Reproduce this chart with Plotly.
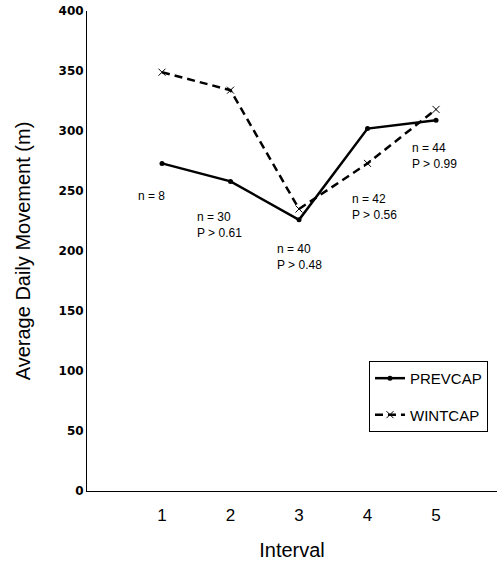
import plotly.graph_objects as go

intervals = [1, 2, 3, 4, 5]
prevcap = [273, 258, 226, 302, 309]
wintcap = [349, 334, 235, 273, 318]
tick_labels = ["1", "2", "3", "4", "5"]
y_ticks = [0, 50, 100, 150, 200, 250, 300, 350, 400]

ann_texts = ["n = 8", "n = 30<br>P > 0.61", "n = 40<br>P > 0.48", "n = 42<br>P > 0.56", "n = 44<br>P > 0.99"]
ann_x = [0.62, 1.48, 2.65, 3.74, 4.62]
ann_y = [246, 222, 195, 237, 279]

FONT = "Liberation Sans, Arial, sans-serif"

fig = go.Figure()
fig.add_trace(go.Scatter(
    x=intervals, y=prevcap, name="PREVCAP", mode="lines+markers",
    legendgroup="a",
    line=dict(color="black", width=2.5),
    marker=dict(symbol="circle", size=5, color="black"),
))
fig.add_trace(go.Scatter(
    x=intervals, y=wintcap, name="WINTCAP", mode="lines+markers",
    legendgroup="b",
    line=dict(color="black", width=2.5, dash="8px,5px"),
    marker=dict(symbol="x-thin", size=7, line=dict(color="black", width=1)),
))

for t, ax, ay in zip(ann_texts, ann_x, ann_y):
    fig.add_annotation(x=ax, y=ay, xref="x", yref="y", text=t, showarrow=False,
                       xanchor="left", yanchor="middle", align="left",
                       font=dict(family=FONT, size=12, color="black"))

fig.update_layout(
    width=497, height=574,
    margin=dict(l=87, r=0, t=11, b=83),
    paper_bgcolor="white", plot_bgcolor="white",
    font=dict(family=FONT, color="black"),
    showlegend=True,
    legend=dict(x=0.978, y=0.271, xanchor="right", yanchor="top",
                bordercolor="black", borderwidth=1, bgcolor="white",
                font=dict(family=FONT, size=15, color="black"),
                itemwidth=30, tracegroupgap=14),
    xaxis=dict(range=[-0.095, 5.89], tickvals=intervals, ticktext=tick_labels,
               automargin=False, ticklabelstandoff=9,
               showgrid=False, zeroline=False, showline=True, linecolor="black",
               linewidth=1, ticks="", tickfont=dict(family=FONT, size=17),
               title=dict(text="Interval", font=dict(family=FONT, size=20), standoff=18)),
    yaxis=dict(range=[0, 400], tickvals=y_ticks, showgrid=False, zeroline=False,
               automargin=False,
               showline=True, linecolor="black", linewidth=1, ticks="",
               tickfont=dict(family="DejaVu Sans, sans-serif", size=12, weight="bold"),
               title=dict(text="Average Daily Movement (m)", font=dict(family=FONT, size=20), standoff=22)),
)

fig.write_html("out.html", config={"displayModeBar": False},
               post_script="document.body.style.margin='0';document.body.style.overflow='hidden';")
